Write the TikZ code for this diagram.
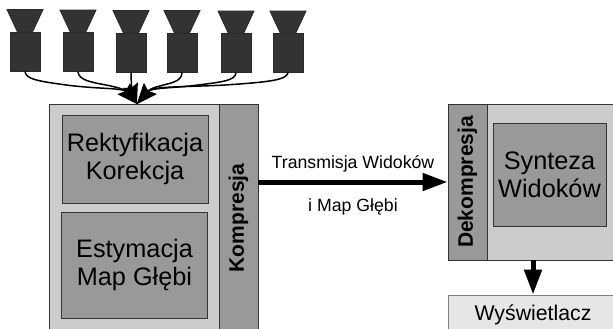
\documentclass[tikz,border=0pt]{standalone}
\usepackage{fontspec}
\setmainfont{Liberation Sans}
\usetikzlibrary{arrows.meta}
\usetikzlibrary{positioning}
\usetikzlibrary{calc}
\definecolor{outergray}{HTML}{CCCCCC}
\definecolor{innergray}{HTML}{999999}
\definecolor{dispgray}{HTML}{E6E6E6}
\definecolor{camgray}{HTML}{333333}
\newcommand{\bigtext}{\fontsize{25.3}{28}\selectfont}
\begin{document}
\begin{tikzpicture}[x=1pt,y=-1pt,>={Triangle[length=25pt,width=17pt]},semithick]
		\tikzstyle{outerbox}=[draw=camgray,fill=outergray,line width=0.9pt,inner sep=0pt]
		\tikzstyle{innerbox}=[draw=camgray,fill=innergray,line width=0.9pt,inner sep=0pt,align=center,font=\bigtext]
		\tikzstyle{stripbox}=[innerbox,rotate=90,font=\fontsize{21}{24}\selectfont\bfseries]
		\tikzstyle{dispbox}=[draw=gray,fill=dispgray,line width=0.9pt,inner sep=0pt,font=\fontsize{21.3}{24}\selectfont]
		\tikzstyle{cambody}=[draw=camgray!80!black,fill=camgray,line width=0.8pt,inner sep=0pt,minimum width=30pt,minimum height=39pt]
		\tikzstyle{camlens}=[draw=camgray!80!black,fill=camgray,line width=0.8pt]
		\tikzstyle{camlink}=[-{Stealth[length=20pt,width=16pt,inset=3pt]},line width=1.5pt]
		\tikzstyle{thick arrow}=[->,line width=5pt]
		\tikzstyle{linklabel}=[font=\fontsize{17.7}{20}\selectfont,inner sep=0pt]
		
		\clip (0,0) rectangle (613,329);
		
		\node[outerbox,minimum width=209pt,minimum height=228pt] (Sender) at (153.5,218) {};
		\node[stripbox,minimum width=228pt,minimum height=39pt] (Kompresja) at (238.5,218) {Kompresja};
		\node[innerbox,minimum width=146pt,minimum height=88pt] (Rekt) at (135,159) {Rektyfikacja\\Korekcja};
		\node[innerbox,minimum width=146pt,minimum height=106pt] (Estym) at (134.5,265) {Estymacja\\Map Głębi};
		
		\node[outerbox,minimum width=170pt,minimum height=156pt] (Receiver) at (533,182) {};
		\node[stripbox,minimum width=156pt,minimum height=39pt] (Dekompresja) at (467.5,182) {Dekompresja};
		\node[innerbox,minimum width=113pt,minimum height=103pt] (Synteza) at (549.5,174.5) {Synteza\\Widoków};
		\node[dispbox,minimum width=170pt,minimum height=40pt] (Display) at (533,315) {Wyświetlacz};
		
		\coordinate (Inlet) at (137,104);
		\foreach \name/\xpos/\ypos in {Cam1/25/51.5,Cam2/78/52,Cam3/131/52.5,Cam4/182/52.5,Cam5/236/53,Cam6/288/53}
		{
			\node[cambody] (\name) at (\xpos,\ypos) {};
			\draw[camlens] ($(\name.north)+(-7.5,0.5)$) -- ++(-10.5,-22.5) -- ++(36,0) -- ++(-10.5,22.5) -- cycle;
		}
		
		\draw[camlink] (Cam1.south) .. controls (26,79) and (36,81) .. (70,85.5) .. controls (100,89) and (123,88) .. (Inlet);
		\draw[camlink] (Cam2.south) .. controls (79,80) and (90,82) .. (106,85) .. controls (116,87) and (124,89) .. (Inlet);
		\draw[camlink] (Cam3.south) .. controls (131,80) and (132,90) .. (Inlet);
		\draw[camlink] (Cam4.south) .. controls (182,82) and (170,83) .. (160,86) .. controls (155,87) and (150,89) .. (Inlet);
		\draw[camlink] (Cam5.south) .. controls (235,81) and (222,82) .. (190,86) .. controls (170,88) and (151,88) .. (Inlet);
		\draw[camlink] (Cam6.south) .. controls (286,80) and (270,82) .. (225,85) .. controls (190,87) and (152,86) .. (Inlet);
		
		\draw[thick arrow] (Kompresja.south |- Dekompresja.north) -- (Dekompresja.north)
			node[linklabel,midway,above=7pt] {Transmisja Widoków}
			node[linklabel,midway,below=14pt] {i Map Głębi};
		\draw[thick arrow] (Receiver.south) -- (Display.north);
\end{tikzpicture}
\end{document}
